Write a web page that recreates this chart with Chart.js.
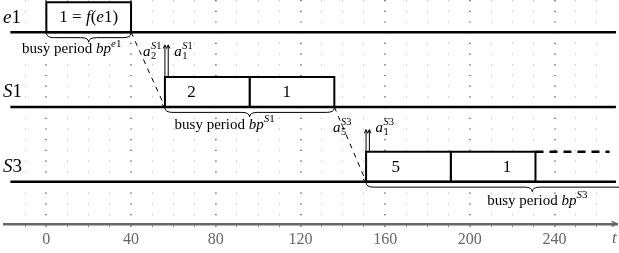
<!DOCTYPE html>
<html>
<head>
<meta charset="utf-8">
<script src="https://cdn.jsdelivr.net/npm/chart.js@4/dist/chart.umd.min.js"></script>
<style>
  body { margin: 0; background: #fff; }
  #wrap { width: 619px; height: 253px; }
</style>
</head>
<body>
<div id="wrap"><canvas id="myChart" width="619" height="253"></canvas></div>
<script>
// rows of the schedule (top to bottom)
const rows = ['e1', 'S1', 'S3'];

// jobs: row, start, end, label, where the label sits (t)
const jobRow    = [0, 1, 1, 2, 2];
const jobStart  = [0, 56, 96, 151, 191];
const jobEnd    = [40, 96, 136, 191, 231];
const jobLabel  = ['1 = f(e1)', '2', '1', '5', '1'];
const jobLabelT = [20, 68.5, 113.5, 165, 217.5];

// arrivals (a_sub^sup) on each row
const arrRow  = [1, 1, 2, 2];
const arrTime = [56, 56, 151, 151];
const arrSub  = ['2', '1', '5', '1'];

// busy periods
const bpRow   = [0, 1, 2];
const bpStart = [0, 56, 151];
const bpEnd   = [40, 136, 308];

// open end after the last job on S3
const openRow = 2, openFrom = 231, openTo = 266;

// x axis
const xTicks = [0, 40, 80, 120, 160, 200, 240];

const SERIF = "'Liberation Serif', 'DejaVu Serif', serif";
const BOX_H = 0.4;
const level = i => rows.length - 1 - i;

var datasets = [];
// row lines
rows.forEach(function(r, i) {
    datasets.push({
        data: [{x: -17, y: level(i)}, {x: 269, y: level(i)}],
        borderColor: '#000', borderWidth: 2.5, order: 0
    });
});
// job boxes
jobStart.forEach(function(s, j) {
    var y0 = level(jobRow[j]), y1 = y0 + BOX_H, e = jobEnd[j];
    datasets.push({
        data: [{x: s, y: y0}, {x: s, y: y1}, {x: e, y: y1}, {x: e, y: y0}, {x: s, y: y0}],
        borderColor: '#000', borderWidth: 2, backgroundColor: '#fff',
        fill: 'shape', borderJoinStyle: 'miter', order: 1
    });
});
// forwarding links between busy periods
for (var i = 0; i < bpRow.length - 1; i++) {
    datasets.push({
        data: [{x: bpEnd[i], y: level(bpRow[i])}, {x: bpStart[i + 1], y: level(bpRow[i + 1])}],
        borderColor: '#000', borderWidth: 1, borderDash: [5, 5], order: 2
    });
}
// open end
datasets.push({
    data: [{x: openFrom, y: level(openRow) + BOX_H}, {x: openTo, y: level(openRow) + BOX_H}],
    borderColor: '#000', borderWidth: 2.5, borderDash: [8, 6], order: 2
});
datasets.forEach(function(d) {
    d.showLine = true; d.pointRadius = 0; d.tension = 0;
    if (!d.fill) d.fill = false;
});

// draw a run of math-ish text pieces: [text, size, italic, dy]
function mathText(ctx, parts, x, y, align) {
    var w = 0;
    parts.forEach(function(p) {
        ctx.font = (p[2] ? 'italic ' : '') + p[1] + 'px ' + SERIF;
        w += ctx.measureText(p[0]).width;
    });
    if (align === 'center') x -= w / 2;
    if (align === 'right') x -= w;
    parts.forEach(function(p) {
        ctx.font = (p[2] ? 'italic ' : '') + p[1] + 'px ' + SERIF;
        ctx.fillText(p[0], x, y + (p[3] || 0));
        x += ctx.measureText(p[0]).width;
    });
    return w;
}

function arrowHead(ctx, x, y, ang, len) {
    ctx.beginPath();
    ctx.moveTo(x - len * Math.cos(ang - 0.45), y - len * Math.sin(ang - 0.45));
    ctx.lineTo(x, y);
    ctx.lineTo(x - len * Math.cos(ang + 0.45), y - len * Math.sin(ang + 0.45));
    ctx.stroke();
}

function brace(ctx, x0, x1, y0, h) {
    var mid = (x0 + x1) / 2, r = Math.min(8, (x1 - x0) / 4), ym = y0 + h / 2;
    ctx.beginPath();
    ctx.moveTo(x0, y0);
    ctx.quadraticCurveTo(x0, ym, x0 + r, ym);
    ctx.lineTo(mid - r, ym);
    ctx.quadraticCurveTo(mid, ym, mid, y0 + h);
    ctx.quadraticCurveTo(mid, ym, mid + r, ym);
    ctx.lineTo(x1 - r, ym);
    ctx.quadraticCurveTo(x1, ym, x1, y0);
    ctx.stroke();
}

// pixel tweaks for the annotations, per row
const ARR_TIP = [0, 62, 52];     // arrow tip above row line
const ARR_BASE = [0, 51, 50];    // arrival label baseline above row line
const ARR_GAP = [0, 3, 14];      // gap between left label and arrows
const BP_DX = [-17, -25, 5];     // busy label centre vs brace middle
const BP_DY = [21, 22, 23];      // busy label baseline below row line

var annotations = {
    id: 'annotations',
    afterDatasetsDraw: function(chart) {
        var ctx = chart.ctx, xs = chart.scales.x, ys = chart.scales.y;
        var px = function(v) { return xs.getPixelForValue(v); };
        var py = function(v) { return ys.getPixelForValue(v); };
        ctx.save();
        ctx.fillStyle = '#000';
        ctx.strokeStyle = '#000';
        ctx.textBaseline = 'alphabetic';

        // row names
        rows.forEach(function(r, i) {
            mathText(ctx, [[r[0], 19, true], [r.slice(1), 19, false]], 3, py(level(i)) - 9.5, 'left');
        });

        // job labels
        jobLabel.forEach(function(l, j) {
            var y = py(level(jobRow[j])) - 10;
            var parts = l.length > 1
                ? [['1 = ', 17, false], ['f', 17, true], ['(', 17, false], ['e', 17, true], ['1)', 17, false]]
                : [[l, 17, false]];
            mathText(ctx, parts, px(jobLabelT[j]), y, 'center');
        });

        // arrival arrows and labels
        var seen = {};
        arrTime.forEach(function(t, k) {
            var r = arrRow[k], n = seen[r] || 0;
            seen[r] = n + 1;
            var line = py(level(r)), top = py(level(r) + BOX_H);
            var x = px(t) + n * 3.3;
            ctx.lineWidth = 1;
            ctx.beginPath();
            ctx.moveTo(x, top);
            ctx.lineTo(x, line - ARR_TIP[r]);
            ctx.stroke();
            arrowHead(ctx, x, line - ARR_TIP[r], -Math.PI / 2, 4);

            var yb = line - ARR_BASE[r];
            ctx.font = 'italic 15px ' + SERIF;
            var wa = ctx.measureText('a').width;
            ctx.font = 'italic 10.5px ' + SERIF;
            var wsup = ctx.measureText('S').width;
            ctx.font = '10.5px ' + SERIF;
            wsup += ctx.measureText(rows[r].slice(1)).width;
            var w = wa + wsup + 1;
            var lx = n === 0 ? x - ARR_GAP[r] - w : x + 6;
            mathText(ctx, [['a', 15, true]], lx, yb, 'left');
            mathText(ctx, [['S', 10.5, true], [rows[r].slice(1), 10.5, false]], lx + wa + 0.5, yb - 7, 'left');
            mathText(ctx, [[arrSub[k], 10.5, false]], lx + wa + 0.5, yb + 3.5, 'left');
        });

        // forwarding link arrowheads
        ctx.lineWidth = 1;
        for (var i = 0; i < bpRow.length - 1; i++) {
            var x0 = px(bpEnd[i]), y0 = py(level(bpRow[i]));
            var x1 = px(bpStart[i + 1]), y1 = py(level(bpRow[i + 1]));
            arrowHead(ctx, x1, y1, Math.atan2(y1 - y0, x1 - x0), 4);
        }

        // busy period braces + labels
        bpRow.forEach(function(r, b) {
            var line = py(level(r));
            var x0 = px(bpStart[b]), x1 = px(bpEnd[b]);
            ctx.lineWidth = 1;
            brace(ctx, x0, x1, line + 1, 9);
            var nm = rows[r];
            mathText(ctx, [['busy period ', 15, false], ['bp', 15, true],
                           [nm[0], 11, true, -6.5], [nm.slice(1), 11, false, -6.5]],
                     (x0 + x1) / 2 + BP_DX[r], line + BP_DY[r], 'center');
        });

        // axis arrow and t
        var ay = chart.chartArea.bottom, ax = chart.chartArea.right;
        ctx.strokeStyle = '#666';
        ctx.lineWidth = 1.3;
        arrowHead(ctx, ax, ay, 0, 6);
        ctx.fillStyle = '#666';
        mathText(ctx, [['t', 17, true]], ax - 5, ay + 19, 'left');
        ctx.restore();
    }
};

var isMajor = function(v) { return v % 40 === 0; };

var ctx = document.getElementById('myChart').getContext('2d');
var chart = new Chart(ctx, {
    type: 'scatter',
    data: { datasets: datasets },
    options: {
        responsive: false,
        animation: false,
        layout: { padding: { left: 4, right: 2, top: 0, bottom: 1 } },
        plugins: { legend: { display: false }, tooltip: { enabled: false } },
        scales: {
            x: {
                type: 'linear', min: -20, max: 269.5,
                ticks: {
                    stepSize: 10, autoSkip: false, includeBounds: false, maxRotation: 0,
                    padding: 3, color: '#666',
                    font: { family: SERIF, size: 16 },
                    callback: function(v) { return xTicks.indexOf(v) >= 0 ? String(v) : ''; }
                },
                grid: {
                    color: function(c) {
                        var v = c.tick ? c.tick.value : 0;
                        if (v < -10) return 'rgba(0,0,0,0)';
                        return isMajor(v) ? '#777' : '#bbb';
                    },
                    lineWidth: function(c) { return c.tick && isMajor(c.tick.value) ? 1.8 : 1; },
                    tickLength: 3,
                    tickColor: function(c) {
                        var v = c.tick ? c.tick.value : 0;
                        return v < -10 ? 'rgba(0,0,0,0)' : '#666';
                    }
                },
                border: { display: true, color: '#666', width: 2.5, dash: [1.2, 9.5] }
            },
            y: { type: 'linear', display: false, min: -0.564, max: 2.43 }
        }
    },
    plugins: [annotations]
});
</script>
</body>
</html>
